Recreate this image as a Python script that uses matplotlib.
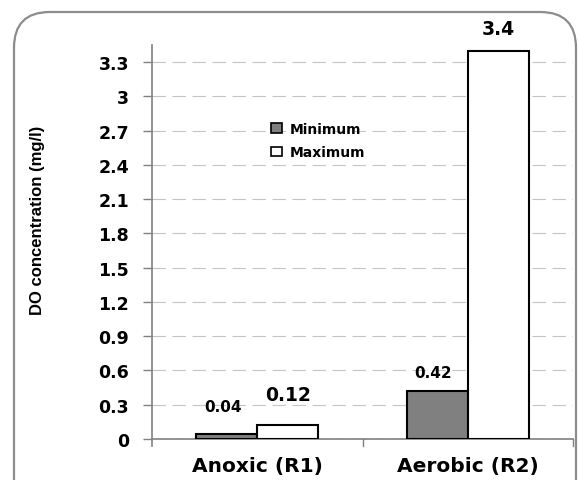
import matplotlib
matplotlib.use("Agg")
import matplotlib.pyplot as plt
import numpy as np
from matplotlib.patches import FancyBboxPatch

categories = ["Anoxic (R1)", "Aerobic (R2)"]
series_names = ["Minimum", "Maximum"]
minimum = [0.04, 0.42]
maximum = [0.12, 3.4]
min_labels = ["0.04", "0.42"]
max_labels = ["0.12", "3.4"]
yticks = [0, 0.3, 0.6, 0.9, 1.2, 1.5, 1.8, 2.1, 2.4, 2.7, 3, 3.3]
ytick_labels = ["0", "0.3", "0.6", "0.9", "1.2", "1.5", "1.8", "2.1", "2.4", "2.7", "3", "3.3"]

plt.rcParams['font.family'] = ['DejaVu Sans']
plt.rcParams['font.weight'] = 'bold'

W, H = 578, 481
fig = plt.figure(figsize=(W / 100, H / 100), dpi=100)

# rounded outer frame
frame = FancyBboxPatch((14 / W, -40 / H), (576 - 14) / W, (H - 13 + 40) / H,
                       boxstyle="round,pad=0,rounding_size=0.062",
                       transform=fig.transFigure, fill=False,
                       edgecolor="#8c8c8c", linewidth=1.6, mutation_aspect=W / H)
fig.patches.append(frame)

ax = fig.add_axes([152 / W, 1 - 440 / H, (573 - 152) / W, (440 - 46) / H])
x = np.arange(len(categories))
bw = 0.29
ax.bar(x - bw / 2, minimum, bw, color="#808080", edgecolor="black", linewidth=1.5,
       label=series_names[0], zorder=3)
ax.bar(x + bw / 2, maximum, bw, color="white", edgecolor="black", linewidth=1.5,
       label=series_names[1], zorder=3)

ax.set_xlim(-0.5, 1.5)
ax.set_ylim(0, 3.45)
ax.set_yticks(yticks)
ax.set_yticklabels(ytick_labels, fontsize=12.5, fontweight='bold')
ax.set_xticks(x)
ax.set_xticklabels(categories, fontsize=14.5, fontweight='bold')
ax.tick_params(axis='x', length=0, pad=12)
ax.tick_params(axis='y', length=6.5, width=1, color="#808080", pad=10)
for xb in [0.5, 1.5]:
    ax.plot([xb, xb], [0, -0.06], color="#808080", lw=1, clip_on=False)

ax.yaxis.grid(True, linestyle=(0, (12, 6)), color="#c4c4c4", linewidth=0.8, zorder=0)
for s in ["top", "right"]:
    ax.spines[s].set_visible(False)
for s in ["left", "bottom"]:
    ax.spines[s].set_color("#808080")
    ax.spines[s].set_linewidth(1.2)
ax.spines["left"].set_bounds(-0.06, 3.45)

# data labels
min_off = [28, 19]
max_off = [31, 22]
for i in range(len(categories)):
    ax.annotate(min_labels[i], (x[i] - bw / 2 - 0.02, minimum[i]), xytext=(0, min_off[i]),
                textcoords="offset pixels", ha="center", va="center", fontsize=11, fontweight='bold')
    ax.annotate(max_labels[i], (x[i] + bw / 2, maximum[i]), xytext=(0, max_off[i]),
                textcoords="offset pixels", ha="center", va="center", fontsize=13.5, fontweight='bold')

ax.set_ylabel("DO concentration (mg/l)", fontsize=12, fontweight='bold',
              family=['Liberation Sans', 'DejaVu Sans'])
ax.yaxis.set_label_coords(-107 / (573 - 152), 0.558)

leg = ax.legend(loc="upper left", bbox_to_anchor=((265 - 152) / (573 - 152), (440 - 117) / (440 - 46)),
                frameon=False, fontsize=10, handlelength=0.8, handleheight=0.7,
                handletextpad=0.6, labelspacing=0.7, borderaxespad=0)
for h in leg.legend_handles:
    h.set_linewidth(1.2)

fig.savefig("out.png", dpi=100)
